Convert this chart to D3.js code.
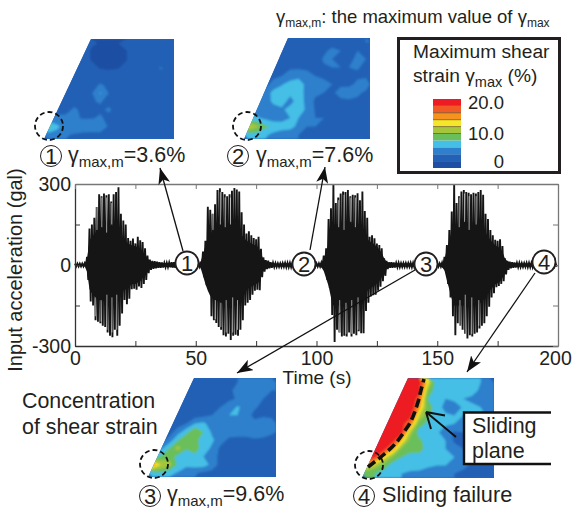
<!DOCTYPE html>
<html>
<head>
<meta charset="utf-8">
<script src="https://cdn.jsdelivr.net/npm/d3@7"></script>
<style>
html, body { margin: 0; padding: 0; background: #fff; }
svg { display: block; }
text { font-family: "Liberation Sans", Arial, sans-serif; fill: #231f20; }
</style>
</head>
<body>
<div id="chart"></div>
<script>
// input wave, peak per second (gal)
var upper1 = [5,5,5,5,6,30,135,150,175,215,262,255,265,258,262,235,262,270,288,190,165,150,100,90,98,80,105,92,85,62,35,20,15,14,12,10,9,8,8,9,10,10,9,8,8,8,6,6,6,6];
var lower1 = [-5,-5,-5,-5,-6,-55,-135,-150,-205,-210,-216,-225,-230,-250,-262,-268,-240,-262,-225,-180,-130,-145,-125,-90,-88,-92,-80,-85,-70,-55,-30,-18,-14,-12,-10,-10,-9,-8,-8,-8,-9,-10,-9,-8,-7,-7,-6,-6,-6,-6];
var upper2 = [6,6,12,50,90,216,205,190,225,278,284,270,262,255,262,275,285,280,272,195,150,117,125,110,100,95,105,60,28,18,16,10,8,7,6,6,7,8,8,8,8,8,8,8,8,8,8,6,6,6];
var lower2 = [-6,-6,-15,-45,-75,-90,-190,-205,-215,-230,-240,-260,-265,-255,-278,-262,-258,-262,-240,-205,-150,-140,-130,-110,-95,-92,-93,-45,-25,-15,-12,-10,-8,-7,-7,-7,-7,-8,-8,-8,-8,-8,-8,-8,-8,-8,-7,-6,-6,-6];
var upper3 = [6,6,8,35,62,170,210,296,230,250,265,272,270,278,255,260,258,266,240,272,200,175,105,110,99,80,74,62,25,15,10,10,9,8,8,7,7,7,7,8,8,8,7,7,7,7,6,6,6,6];
var lower3 = [-6,-6,-10,-25,-55,-85,-185,-285,-240,-250,-265,-262,-265,-250,-265,-255,-260,-245,-253,-253,-170,-140,-117,-112,-110,-95,-80,-60,-40,-15,-10,-10,-9,-8,-8,-7,-7,-7,-7,-8,-8,-8,-7,-7,-7,-7,-6,-6,-6,-6];
var upper4 = [6,6,8,30,74,130,198,296,230,255,272,278,270,268,262,268,265,270,278,260,190,170,130,110,93,90,95,70,25,15,12,10,9,8,8,7,7,8,8,8,8,7,7,7,7,7,6,6,6,6];
var lower4 = [-6,-6,-10,-22,-70,-120,-190,-260,-216,-225,-240,-255,-272,-260,-265,-255,-250,-235,-225,-216,-190,-155,-120,-105,-82,-78,-70,-60,-35,-18,-12,-10,-9,-8,-8,-7,-7,-8,-8,-8,-8,-7,-7,-7,-7,-7,-6,-6,-6,-6];
// half height of the part of the wave that prints solid black
var core1 = [4,4,4,4,5,25,90,105,115,125,130,135,135,135,135,130,130,125,115,100,95,90,80,75,70,70,65,60,48,38,25,15,11,10,9,8,7,7,7,7,8,8,7,7,6,6,5,5,5,5];
var core2 = [5,5,10,40,70,95,115,125,130,135,135,135,135,135,135,135,130,125,120,110,100,90,85,80,75,70,65,42,22,14,12,8,7,6,5,5,6,6,6,6,6,6,6,6,6,6,5,5,5,5];
var core3 = [5,5,8,22,50,78,120,150,150,150,150,150,150,150,150,150,145,145,140,130,110,95,88,82,76,68,58,44,25,12,8,8,7,7,6,6,6,6,6,6,6,6,6,6,6,6,5,5,5,5];
var core4 = [5,5,8,20,58,90,125,150,150,150,150,150,150,150,150,150,145,145,140,130,120,105,92,82,72,68,62,48,25,14,10,8,7,7,6,6,6,6,6,6,6,6,6,6,6,6,5,5,5,5];
// pale streaks between the big peaks: time, from, to (gal)
var streaks = [
	[9.1,130,230],[11.1,140,250],[13.1,120,250],[15.2,150,230],[8.4,-120,-190],[10.8,-130,-210],[13.2,-110,-240],[15.3,-120,-250],[17.3,-110,-240],
	[57.1,130,190],[60.2,150,270],[62.2,140,250],[64.4,150,250],[58.1,-130,-200],[60.4,-140,-230],[62.6,-130,-250],[65.3,-120,-250],[67.3,-130,-240],
	[109.2,140,240],[111.4,130,260],[114.2,160,250],[116.1,140,250],[109.6,-130,-250],[112.2,-140,-255],[114.6,-130,-255],[117.2,-120,-240],
	[159.1,140,250],[161.3,160,265],[163.2,130,255],[166.1,150,255],[159.4,-130,-230],[161.6,-110,-255],[164.3,-120,-255],[167.2,-130,-225]
];

var xTicks = [0,25,50,75,100,125,150,175,200];
var xLabels = [0,50,100,150,200];
var yTicks = [-300,-150,0,150,300];
var yLabels = [-300,0,300];

// shear strain (%) on a 15 x 12 grid, one table per stage
var strain1 = [
	[3,3,3,3,3,2.2,1.9,1.9,1.9,2.6,3,3,3,3,3],
	[3,3,3,3,2.8,1.8,1.6,1.6,1.6,1.9,3,3.2,3.5,3.4,3],
	[3,3,3,3,2.5,1.9,1.6,1.4,1.6,1.9,3,3.5,3.8,3.5,3],
	[3,3,3,3,3,2.4,1.9,1.8,1.9,2.6,3,3,3.6,4.1,3.5],
	[3,3,3,3,3,3,2.8,2.8,2.8,3,3,3,3,3.5,3.2],
	[3,3,3,3,3,3.3,4.2,3.6,3.2,3,3.4,3.6,3.4,3,3],
	[3,3,3,3.2,3.3,3.8,6.2,3.9,3.3,3.2,3.2,3.4,3.2,3,3],
	[3,3,3.3,3.6,3.8,3.9,4.1,3.6,3.2,3,2.6,2.6,3,3,2.8],
	[3,3.2,3.6,4.2,3.7,3.6,3.8,4.2,3.4,3.2,3,3,3,3,2.6],
	[4,4.5,4.3,4.2,3.9,3.9,4.2,3.6,3.4,3.5,3.5,3.2,3,2.8,2.6],
	[9,6.5,5,5.2,5,5.6,5.8,3.6,4,4,3.6,3.6,3.6,3.2,2.6],
	[5,5.2,4.2,3.8,3.6,3.2,3.2,3,3,3,3,3,3,3,3]
];
var strain2 = [
	[3,3,3,3,3,3,3,3,3,3,3,3,3.5,3.5,4],
	[3,3,3,3,3,3,3.2,3,3,3.6,4.5,4,3.8,4,3.5],
	[3,3,3,3,3,3.4,3,3.4,3.2,4.2,4,3.6,3,4.8,4],
	[3,3,3,3,3.4,3.8,3.6,3.4,3.6,3.8,4,4,4,4.2,3.5],
	[3,3,3,3.6,4,4.6,5.5,5,4,3.6,3.6,3.4,3.2,3.6,3.6],
	[3,3,3.4,4.6,5.8,7,7,5.4,4.4,4.6,4,3.6,3.4,4.5,5.2],
	[3,3.6,4.5,6.8,7.2,6.6,7.2,5.2,4.4,4,3.6,4.8,5.4,4.4,3.6],
	[3,4.2,4.6,6.6,7,5.2,7,5.4,3.6,3.6,3.4,3.6,3.6,3.6,3.2],
	[4,4.6,4.6,5,5.6,6.8,7.6,5.4,3.8,3.6,3.4,3.4,3.6,3.8,3.4],
	[6.5,6.4,5.5,4.8,5,6,6,4.6,4,4,3.6,3.6,3.6,3.4,3],
	[12.5,10.5,8.5,7.6,7.2,7,5.2,4,4,3.8,3.8,3.6,3.8,3.6,3.4],
	[7,7.2,6.4,5.4,4.6,4.4,4,3.8,3.6,3.6,3.6,3.6,3.6,3.6,3.6]
];
var strain3 = [
	[3,3,3,3,3,3,3,3,3.2,3.6,4,4.4,5,5.6,4.4],
	[3,3,3,3,3,3,3,3,3,3.6,4.6,5,6,5,4],
	[3,3,3,3,3,3,3,3,3,3.6,4.2,5,5.4,4,3.6],
	[3,3,3,3,3,3,3,3,4,5,6.2,5.4,4.2,3.6,3.4],
	[3,3,3,3,3,3,3.4,4,5,6,6,4.6,3.6,3.6,3],
	[3,3,3,3,4,6,6.4,5,4.4,4.6,4.4,4,4.4,5.4,5.6],
	[3,3,3,5,7.2,10,8,5.6,5,5,5,5,6,5.4,4.4],
	[3,3,4.8,7.8,10,8.4,7.4,6.4,4.8,3.6,3.4,3.4,3.6,3.4,3.2],
	[3,5.4,8,11,8.2,8.8,7.2,5.6,3.6,3,2.8,2.8,3,3,3],
	[6,8.2,9,7.4,7,7.6,6,5,3.4,2.8,2.6,2.6,2.8,3,2.8],
	[16,12,11,7.6,6.4,7,7,5.4,3.2,2.6,2.6,2.6,2.6,2.6,2.8],
	[7,7.6,6.6,5.8,5,4.2,3.6,3.2,3,2.6,2.6,2.6,2.6,2.8,3]
];
var strain4 = [
	[20,20,20,20,20,20,19,13,6.5,7,8,7,8,6,5],
	[20,20,20,20,20,20,19,10,6.5,7,7,6.5,7,5.5,4.5],
	[20,20,20,20,20,20,17,8,6.5,6,7,6,5.5,5,4],
	[20,20,20,20,20,20,15,8.5,7.5,5,4,6.5,6.5,6,4],
	[20,20,20,20,20,19,12,8.5,7,6.5,6,6,6,7,5],
	[20,20,20,20,19,16,9,7.5,6.5,6.5,6,4,4,5,5],
	[20,20,20,20,19,11,7,6.5,6.5,4.5,3.8,4,6,6,4],
	[20,20,20,19,14,9,8.5,7,7,6,3.6,3.2,3.6,4.5,3.6],
	[20,20,19,15,9.5,9,9,7,6.5,6,5,4,3.6,3.4,3.2],
	[20,18,13,9.5,8,7,7,6.5,6,6,6,5.5,4,3.4,3.2],
	[14,11,9,7,7,7,7.5,6.5,6,6,5,4.5,3.6,3.2,3],
	[8,8,7,6.5,6,5.5,5,4.5,4.5,4.5,4,3.5,3,3,3]
];

var bandColors = ["#1e4fa3","#2261b6","#2e80cc","#45bfe6","#6abf5a","#a5c63b","#f5e62a","#f6921e","#f15a24","#ed1c24"];
var legendTicks = [0,10,20];

var svg = d3.select("#chart").append("svg")
	.attr("width", 572)
	.attr("height", 509);

var defs = svg.append("defs");
defs.append("filter").attr("id", "soft")
	.append("feGaussianBlur").attr("stdDeviation", 1);
defs.append("marker").attr("id", "head")
	.attr("viewBox", "0 0 16 12")
	.attr("refX", 16).attr("refY", 6)
	.attr("markerWidth", 16).attr("markerHeight", 12)
	.attr("markerUnits", "userSpaceOnUse")
	.attr("orient", "auto")
	.append("path").attr("d", "M16,6L0,0L4,6L0,12Z").attr("fill", "#111");

// ---- time history ----
var x = d3.scaleLinear().domain([0, 200]).range([75, 558]);
var y = d3.scaleLinear().domain([-300, 300]).range([346, 184]);

var upper = upper1.concat(upper2, upper3, upper4);
var lower = lower1.concat(lower2, lower3, lower4);
var core = core1.concat(core2, core3, core4);
var wave = [];
upper.forEach(function(u, i){
	wave.push([i, u]);
	wave.push([i + 0.5, lower[i]]);
});

svg.append("path")
	.datum(core)
	.attr("fill", "#151515")
	.attr("d", d3.area()
		.x(function(d, i){ return x(i); })
		.y0(function(d){ return y(-d); })
		.y1(function(d){ return y(d); }));
svg.append("path")
	.datum(wave)
	.attr("fill", "none")
	.attr("stroke", "#151515")
	.attr("stroke-width", 1.9)
	.attr("d", d3.line().x(function(d){ return x(d[0]); }).y(function(d){ return y(d[1]); }));
svg.selectAll(".streak").data(streaks).enter().append("line")
	.attr("class", "streak")
	.attr("x1", function(d){ return x(d[0]); })
	.attr("x2", function(d){ return x(d[0]); })
	.attr("y1", function(d){ return y(d[1]); })
	.attr("y2", function(d){ return y(d[2]); })
	.attr("stroke", "#fff")
	.attr("stroke-opacity", 0.75)
	.attr("stroke-width", 0.8);

function styleAxis(g, color){
	g.selectAll("path").attr("stroke", color).attr("stroke-width", 1.3);
	g.selectAll("line").attr("stroke", color).attr("stroke-width", 1);
	g.selectAll("text").style("font-size", "19.5px").attr("fill", "#231f20")
		.style("font-family", "'Liberation Sans', Arial, sans-serif");
}

var bottomAxis = svg.append("g").attr("transform", "translate(0,346)")
	.call(d3.axisBottom(x).tickValues(xTicks).tickSizeInner(-5).tickSizeOuter(0).tickPadding(5)
		.tickFormat(function(d){ return xLabels.indexOf(d) >= 0 ? d : ""; }));
styleAxis(bottomAxis, "#333");
// last label would run off the page
bottomAxis.selectAll("text").filter(function(d){ return d == 200; }).attr("dx", -3);
var leftAxis = svg.append("g").attr("transform", "translate(75,0)")
	.call(d3.axisLeft(y).tickValues(yTicks).tickSizeInner(-5).tickSizeOuter(0).tickPadding(4)
		.tickFormat(function(d){ return yLabels.indexOf(d) >= 0 ? d : ""; }));
styleAxis(leftAxis, "#333");
var topAxis = svg.append("g").attr("transform", "translate(0,184)")
	.call(d3.axisTop(x).tickValues(xTicks).tickSizeInner(-5).tickSizeOuter(0).tickFormat(""));
styleAxis(topAxis, "#777");
var rightAxis = svg.append("g").attr("transform", "translate(558,0)")
	.call(d3.axisRight(y).tickValues(yTicks).tickSizeInner(-5).tickSizeOuter(0).tickFormat(""));
styleAxis(rightAxis, "#777");

svg.append("text").attr("transform", "translate(22,270) rotate(-90)")
	.attr("text-anchor", "middle").style("font-size", "20px")
	.text("Input acceleration (gal)");
svg.append("text").attr("x", 317).attr("y", 384)
	.attr("text-anchor", "middle").style("font-size", "19px")
	.text("Time (s)");

// ---- strain maps ----
var color = d3.scaleQuantize().domain([0, 20]).range(bandColors);
var contours = d3.contours().size([15, 12]).thresholds(d3.range(0, 20, 2));

function drawMap(id, table, x0, xTop, x1, y0, y1){
	var sx = d3.scaleLinear().domain([0, 15]).range([x0, x1]);
	var sy = d3.scaleLinear().domain([0, 12]).range([y0, y1]);
	var path = d3.geoPath(d3.geoTransform({
		point: function(px, py){ this.stream.point(sx(px), sy(py)); }
	}));
	defs.append("clipPath").attr("id", id)
		.append("polygon")
		.attr("points", [[x0, y1], [xTop, y0], [x1, y0], [x1, y1]].join(" "));
	var clipped = svg.append("g").attr("clip-path", "url(#" + id + ")");
	clipped.append("rect")
		.attr("x", x0).attr("y", y0)
		.attr("width", x1 - x0).attr("height", y1 - y0)
		.attr("fill", bandColors[1]);
	var g = clipped.append("g").attr("filter", "url(#soft)");
	g.selectAll("path")
		.data(contours(d3.merge(table)))
		.enter().append("path")
		.attr("d", path)
		.attr("fill", function(d){ return color(d.value + 1); });
}

drawMap("map1", strain1, 44, 91, 174, 39, 139);
drawMap("map2", strain2, 244, 288, 370, 38, 139);
drawMap("map3", strain3, 148, 194, 276, 378, 477);
drawMap("map4", strain4, 362, 408, 494, 378, 478);

var toeCircles = [[49,126],[247,126],[154,464],[369,465]];
svg.selectAll(".toe").data(toeCircles).enter().append("circle")
	.attr("class", "toe")
	.attr("cx", function(d){ return d[0]; })
	.attr("cy", function(d){ return d[1]; })
	.attr("r", 14)
	.attr("fill", "none")
	.attr("stroke", "#111")
	.attr("stroke-width", 1.8)
	.attr("stroke-dasharray", "5 3");

// sliding plane
svg.append("path")
	.datum([[368,467],[382,456],[395,444],[404,432],[411,421],[418,402],[421,390],[424,379]])
	.attr("fill", "none")
	.attr("stroke", "#111")
	.attr("stroke-width", 3.6)
	.attr("stroke-dasharray", "9 4")
	.attr("d", d3.line().curve(d3.curveCatmullRom));

svg.append("path")
	.attr("d", "M551,412.5H464V464H551")
	.attr("fill", "#fff")
	.attr("stroke", "#111")
	.attr("stroke-width", 2.4);
svg.append("path")
	.attr("d", "M456,437L426,412M426,412L445,415.5M426,412L431,429")
	.attr("fill", "none")
	.attr("stroke", "#111")
	.attr("stroke-width", 2);
svg.append("text").attr("x", 472).attr("y", 433).style("font-size", "21.5px").text("Sliding");
svg.append("text").attr("x", 472).attr("y", 458).style("font-size", "21.5px").text("plane");

// ---- arrows and numbered markers ----
var arrows = [
	[[183,251],[160,168]],
	[[310,250],[325,167]],
	[[415,270],[237,373]],
	[[535,273],[467,372]]
];
svg.selectAll(".arrow").data(arrows).enter().append("line")
	.attr("class", "arrow")
	.attr("x1", function(d){ return d[0][0]; })
	.attr("y1", function(d){ return d[0][1]; })
	.attr("x2", function(d){ return d[1][0]; })
	.attr("y2", function(d){ return d[1][1]; })
	.attr("stroke", "#111")
	.attr("stroke-width", 1.3)
	.attr("marker-end", "url(#head)");

function numbered(cx, cy, r, label, fill, weight){
	svg.append("circle")
		.attr("cx", cx).attr("cy", cy).attr("r", r)
		.attr("fill", fill)
		.attr("stroke", "#231f20")
		.attr("stroke-width", weight);
	svg.append("text")
		.attr("x", cx).attr("y", cy + 8)
		.attr("text-anchor", "middle")
		.style("font-size", "22px")
		.text(label);
}
numbered(187, 263, 11.5, "1", "#fff", 1.8);
numbered(304, 264, 11.5, "2", "#fff", 1.8);
numbered(426, 264, 11.5, "3", "#fff", 1.8);
numbered(544, 262, 11.5, "4", "#fff", 1.8);
numbered(51, 156, 10.5, "1", "none", 1);
numbered(238, 156, 10.5, "2", "none", 1);
numbered(150, 496, 10.5, "3", "none", 1);
numbered(364, 496, 10.5, "4", "none", 1);

// gamma with subscript, then whatever follows it
function gammaLabel(px, py, size, subSize, before, sub, rest){
	var t = svg.append("text").attr("x", px).attr("y", py).style("font-size", size + "px");
	t.append("tspan").text(before + "γ");
	t.append("tspan").attr("dy", size * 0.24).style("font-size", subSize + "px").text(sub);
	t.append("tspan").attr("dy", -size * 0.24).text(rest);
	return t;
}
gammaLabel(68, 162, 21.5, 15, "", "max,m", "=3.6%");
gammaLabel(256, 162, 21.5, 15, "", "max,m", "=7.6%");
gammaLabel(167, 501, 21.5, 15, "", "max,m", "=9.6%");
svg.append("text").attr("x", 382).attr("y", 502).style("font-size", "21.7px").text("Sliding failure");

svg.append("text").attr("x", 22).attr("y", 408).style("font-size", "21.4px").text("Concentration");
svg.append("text").attr("x", 22).attr("y", 434).style("font-size", "21.4px").text("of shear strain");

var note = gammaLabel(276, 23, 18.5, 12, "", "max,m", ": the maximum value of γ");
note.append("tspan").attr("dy", 4.4).style("font-size", "12px").text("max");

// ---- legend ----
svg.append("rect")
	.attr("x", 398.5).attr("y", 38.5).attr("width", 161).attr("height", 134)
	.attr("fill", "#fff")
	.attr("stroke", "#231f20")
	.attr("stroke-width", 3);
svg.append("text").attr("x", 413).attr("y", 58).style("font-size", "19.2px").text("Maximum shear");
gammaLabel(413, 82, 19.2, 14.5, "strain ", "max", " (%)");

var legendY = d3.scaleLinear().domain([0, 20]).range([168, 99]);
svg.selectAll(".band").data(bandColors).enter().append("rect")
	.attr("class", "band")
	.attr("x", 433).attr("width", 28)
	.attr("y", function(d, i){ return legendY((i + 1) * 2); })
	.attr("height", function(d, i){ return legendY(i * 2) - legendY((i + 1) * 2); })
	.attr("fill", function(d){ return d; });
svg.selectAll(".bandline").data([10,12,14,16]).enter().append("line")
	.attr("class", "bandline")
	.attr("x1", 433).attr("x2", 461)
	.attr("y1", function(d){ return legendY(d); })
	.attr("y2", function(d){ return legendY(d); })
	.attr("stroke", "#5b4a1e").attr("stroke-width", 0.7);
svg.selectAll(".legendlabel").data(legendTicks).enter().append("text")
	.attr("class", "legendlabel")
	.attr("x", 504)
	.attr("y", function(d){ return legendY(d) + (d == 20 ? 10 : d == 10 ? 6.5 : 0); })
	.attr("text-anchor", "end")
	.style("font-size", "18.5px")
	.text(function(d){ return d == 0 ? "0" : d.toFixed(1); });
</script>
</body>
</html>
